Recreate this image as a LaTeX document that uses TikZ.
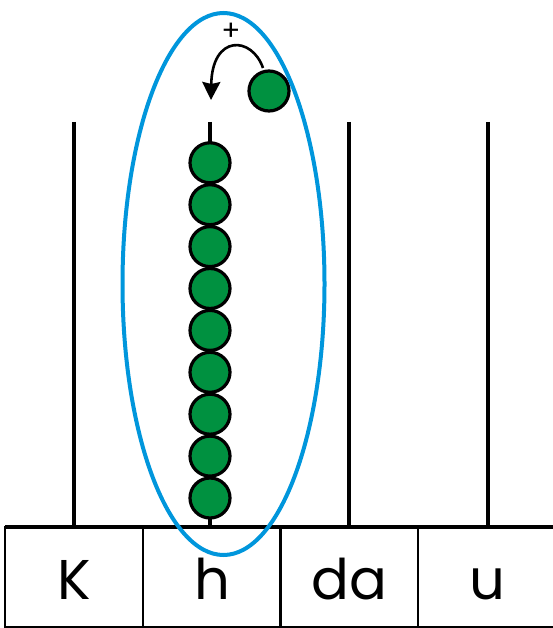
\documentclass[tikz,border=0pt]{standalone}
\usepackage{fontspec}
\setmainfont{Poppins}
\usetikzlibrary{arrows,arrows.meta,shapes,backgrounds}

\begin{document}
\begin{tikzpicture}[x=1pt,y=-1pt,
    bead/.style={circle,draw=black,line width=3.2pt,fill=beadgreen,minimum size=40pt,inner sep=0pt},
    rod/.style={line width=4pt},
    cell/.style={rectangle,draw,line width=1.6pt,minimum width=138pt,minimum height=100pt,
                 text height=45pt,text depth=0pt,font=\fontsize{56}{56}\selectfont},
    loop/.style={draw=ringblue,line width=4pt}]
    \definecolor{beadgreen}{RGB}{0,145,64}
    \definecolor{ringblue}{RGB}{0,150,220}
    \useasboundingbox (0,0) rectangle (553,628);

      % place value table
      \node[cell] (K) at (74,577) {K};
      \node[cell] (h) at (212,577) {h};
      \node[cell] (da) at (349,577) {da};
      \node[cell] (u) at (487,577) {u};
      \draw[line width=3.6pt] (5,527) -- (556,527);

      % rods
      \coordinate (Ktop) at (74,122);
      \coordinate (htop) at (210,122);
      \coordinate (datop) at (349,122);
      \coordinate (utop) at (488,122);
      \draw[rod] (Ktop) -- (Ktop |- K.north);
      \draw[rod] (htop) -- (htop |- h.north);
      \draw[rod] (datop) -- (datop |- da.north);
      \draw[rod] (utop) -- (utop |- u.north);

      % beads on the h rod
      \foreach \i in {0,...,8}
        \node[bead] (b\i) at (210,{498-41.9*\i}) {};

      % the new bead
      \node[bead] (new) at (269,91) {};
      \draw[-{Stealth[length=18pt,width=18pt,inset=2pt]},line width=2.6pt]
        (263,68) .. controls (252,36) and (212,34) .. (211,100);
      \node[font=\fontsize{28}{28}\selectfont] (plus) at (231,32) {+};

      \draw[loop] (223.5,284) ellipse (101 and 271);
\end{tikzpicture}
\end{document}
